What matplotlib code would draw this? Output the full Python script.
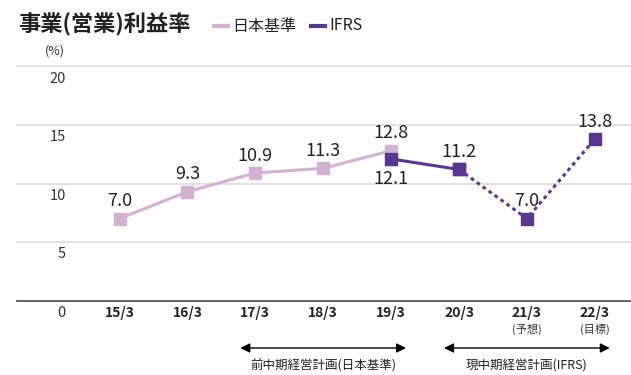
import matplotlib
matplotlib.use("Agg")
import matplotlib.pyplot as plt
from matplotlib.transforms import blended_transform_factory, offset_copy

plt.rcParams["font.family"] = ["Noto Sans CJK JP", "DejaVu Sans"]

years = ["15/3", "16/3", "17/3", "18/3", "19/3", "20/3", "21/3", "22/3"]
year_notes = {"21/3": "(予想)", "22/3": "(目標)"}

jgaap_years = ["15/3", "16/3", "17/3", "18/3", "19/3"]
jgaap_values = [7.0, 9.3, 10.9, 11.3, 12.8]

ifrs_actual_years = ["19/3", "20/3"]
ifrs_actual_values = [12.1, 11.2]
ifrs_plan_years = ["20/3", "21/3", "22/3"]
ifrs_plan_values = [11.2, 7.0, 13.8]

yticks = [0, 5, 10, 15, 20]
plans = [("前中期経営計画(日本基準)", "17/3", "19/3"),
         ("現中期経営計画(IFRS)", "20/3", "22/3")]

light = "#d3b1d3"
dark = "#573790"

W, H = 631, 375
fig = plt.figure(figsize=(W / 100, H / 100), dpi=100)
# axes box in pixels: x 17..631, value 20 at y=66.5, value 0 at y=300.5
ax = fig.add_axes([17 / W, (H - 300.5) / H, (W - 17) / W, 234 / H])
step = 67.9
first = 119.5
ax.set_xlim((17 - first) / step, (W - first) / step)
ax.set_ylim(0, 20)
ax.axis("off")

pos = {y: i for i, y in enumerate(years)}

for v in yticks:
    ax.axhline(v, color="#555555" if v == 0 else "#dcdcdc",
               lw=1.3 if v == 0 else 1.2, zorder=0, clip_on=False)

# y tick labels sit just below their gridline, right-aligned at x=66px
ylab_tr = blended_transform_factory(fig.transFigure, ax.transData)
ylab_tr = offset_copy(ylab_tr, fig=fig, x=0, y=-12.5, units="dots")
for v in yticks:
    ax.text(66 / W, v, f"{v}", transform=ylab_tr, ha="right", va="center",
            fontsize=10.5, color="#333333")
fig.text(55 / W, 1 - 51 / H, "(%)", ha="center", va="center",
         fontsize=9, color="#333333")

mk = dict(marker="s", markersize=8.5, lw=2.2)
ax.plot([pos[y] for y in jgaap_years], jgaap_values, color=light, zorder=2, **mk)
ax.plot([pos[y] for y in ifrs_plan_years], ifrs_plan_values, color=dark,
        ls=(0, (1.2, 1.2)), zorder=3, **mk)
ax.plot([pos[y] for y in ifrs_actual_years], ifrs_actual_values, color=dark,
        zorder=4, **mk)

def label(y, v, below=False):
    ax.annotate(f"{v:.1f}", (pos[y], v), xytext=(0, -8 if below else 6),
                textcoords="offset points", ha="center",
                va="top" if below else "bottom", fontsize=13, color="#222222")

for y, v in zip(jgaap_years, jgaap_values):
    label(y, v)
label("19/3", ifrs_actual_values[0], below=True)
for y, v in zip(ifrs_plan_years, ifrs_plan_values):
    label(y, v)

# category labels under the axis
xlab_tr = blended_transform_factory(ax.transData, fig.transFigure)
for y in years:
    ax.text(pos[y], 1 - 313 / H, y, transform=xlab_tr, ha="center",
            va="center", fontsize=10, fontweight="bold", color="#222222")
    if y in year_notes:
        ax.text(pos[y], 1 - 329 / H, year_notes[y], transform=xlab_tr,
                ha="center", va="center", fontsize=8, color="#333333")

# medium-term plan spans
for name, a, b in plans:
    x0, x1 = pos[a] - 0.22, pos[b] + 0.22
    ax.annotate("", xy=(x1, 1 - 348 / H), xytext=(x0, 1 - 348 / H),
                xycoords=xlab_tr, textcoords=xlab_tr,
                arrowprops=dict(arrowstyle="<|-|>", color="black", lw=1,
                                mutation_scale=14, shrinkA=0, shrinkB=0))
    ax.text((x0 + x1) / 2, 1 - 366 / H, name, transform=xlab_tr,
            ha="center", va="center", fontsize=9, color="#222222")

# title and legend
fig.text(18 / W, 1 - 25 / H, "事業(営業)利益率", ha="left", va="center",
         fontsize=16, fontweight="bold", color="#222222")
for x, c, name in [(214, light, "日本基準"), (311, dark, "IFRS")]:
    fig.add_artist(plt.Line2D([x / W, (x + 14) / W], [1 - 26 / H] * 2,
                              color=c, lw=3))
    fig.text((x + 18) / W, 1 - 26 / H, name, ha="left", va="center",
             fontsize=11.5, color="#222222")

fig.savefig("out.png", dpi=100)
